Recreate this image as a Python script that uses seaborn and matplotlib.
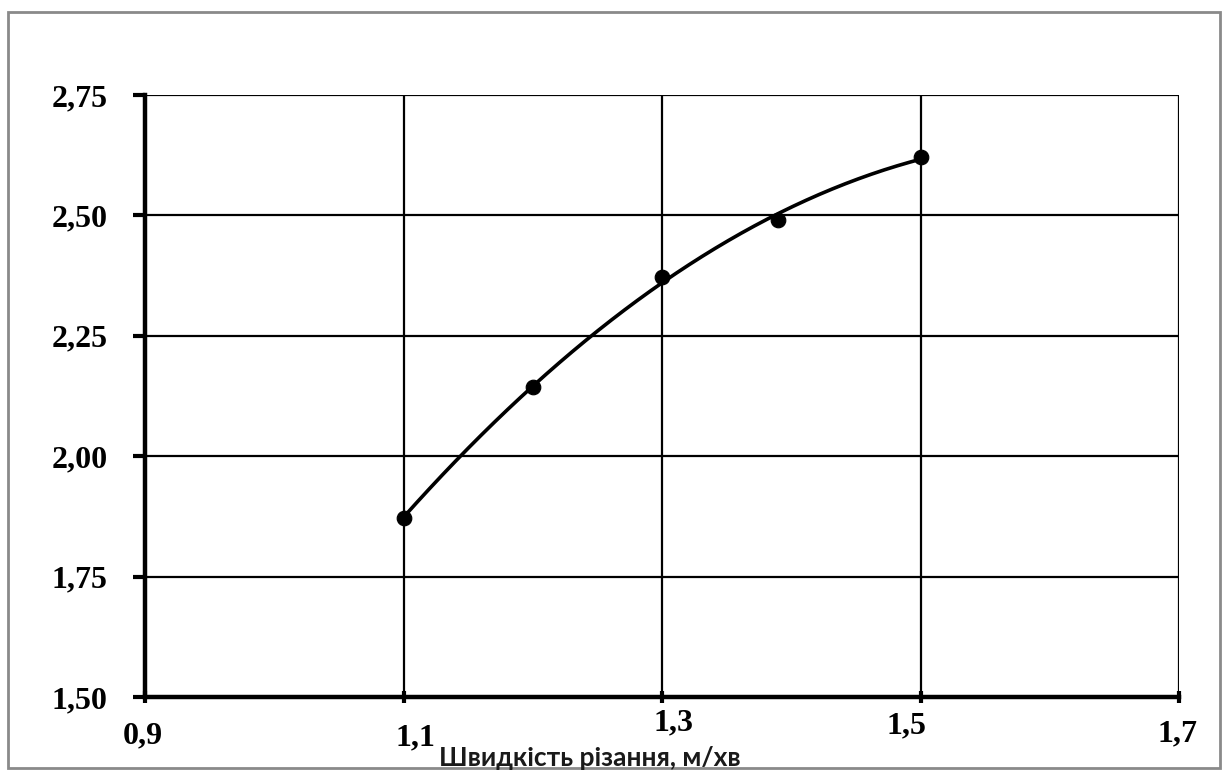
import numpy as np
import pandas as pd
import seaborn as sns
import matplotlib.pyplot as plt
from matplotlib.patches import Rectangle
from matplotlib.ticker import FuncFormatter, FixedLocator
import matplotlib.transforms as mtransforms

sns.set_style("white")
plt.rcParams["font.family"] = ["Liberation Serif", "DejaVu Serif"]

# cutting speed, m/min and measured response
speed = [1.10, 1.20, 1.30, 1.39, 1.50]
value = [1.872, 2.144, 2.372, 2.490, 2.621]

x_ticks = [0.9, 1.1, 1.3, 1.5, 1.7]
y_ticks = [1.50, 1.75, 2.00, 2.25, 2.50, 2.75]
x_label = "Швидкість різання, м/хв"

df = pd.DataFrame({"speed": speed, "value": value})

# second-order trend line over the measured range
coef = np.polyfit(df["speed"], df["value"], 2)
xs = np.linspace(min(speed), max(speed), 200)
trend = pd.DataFrame({"speed": xs, "value": np.polyval(coef, xs)})

fig = plt.figure(figsize=(12.23, 7.74), dpi=100)
ax = fig.add_axes([145 / 1223, 1 - 697 / 774, (1179 - 145) / 1223, (697 - 95) / 774])

# outer chart frame
fig.patches.append(Rectangle((8 / 1223, 1 - 768 / 774), (1220 - 8) / 1223, (768 - 12) / 774,
                             transform=fig.transFigure, fill=False,
                             edgecolor="#8a8a8a", linewidth=2.0))

sns.lineplot(data=trend, x="speed", y="value", ax=ax, color="black", linewidth=2.6)
sns.scatterplot(data=df, x="speed", y="value", ax=ax, color="black", s=110,
                edgecolor="black", zorder=5)

ax.set_xlim(x_ticks[0], x_ticks[-1])
ax.set_ylim(y_ticks[0], y_ticks[-1])
ax.xaxis.set_major_locator(FixedLocator(x_ticks))
ax.yaxis.set_major_locator(FixedLocator(y_ticks))
ax.xaxis.set_major_formatter(FuncFormatter(lambda v, p: f"{v:.1f}".replace(".", ",")))
ax.yaxis.set_major_formatter(FuncFormatter(lambda v, p: f"{v:.2f}".replace(".", ",")))

ax.grid(True, color="black", linewidth=1.6)
ax.set_axisbelow(True)
for side in ["top", "right"]:
    ax.spines[side].set_visible(False)
for side in ["left", "bottom"]:
    ax.spines[side].set_visible(True)
    ax.spines[side].set_color("black")
    ax.spines[side].set_linewidth(3.2)
    ax.spines[side].set_zorder(6)

ax.tick_params(axis="y", direction="out", length=9, width=3, color="black",
               left=True, pad=18, labelsize=23, labelcolor="black")
ax.tick_params(axis="x", direction="inout", length=9, width=3, color="black",
               bottom=True, pad=13, labelsize=23, labelcolor="black")
for lbl in ax.get_xticklabels() + ax.get_yticklabels():
    lbl.set_fontweight("bold")

# staggered x tick labels (pixel offsets: right, up)
label_offsets = [(-2, 0), (12, -2), (12, 13), (-14, 10), (-1, 2)]
for lbl, (dx, dy) in zip(ax.get_xticklabels(), label_offsets):
    shift = mtransforms.ScaledTranslation(dx / 100, dy / 100, fig.dpi_scale_trans)
    lbl.set_transform(lbl.get_transform() + shift)

ax.set_xlabel("")
ax.set_ylabel("")
fig.text(590 / 1223, 1 - 766 / 774, x_label, ha="center", va="baseline",
         fontsize=19, fontweight="bold", family=["Lato", "DejaVu Sans"], color="#1a1a1a")

fig.savefig("out.png", dpi=100, facecolor="white")
